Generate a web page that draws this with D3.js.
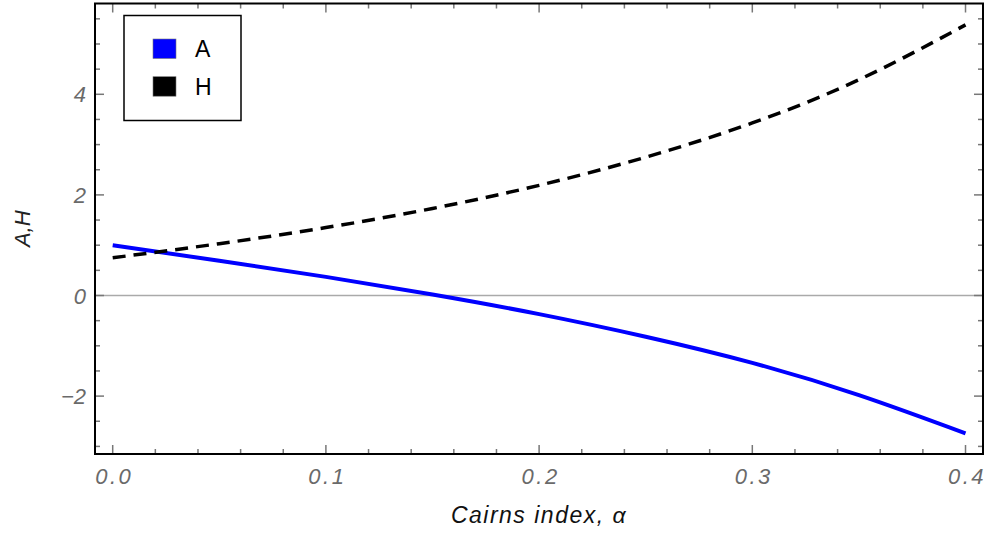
<!DOCTYPE html>
<html><head><meta charset="utf-8">
<script src="https://cdn.jsdelivr.net/npm/d3@7"></script>
<style>
html,body{margin:0;padding:0;background:#fff;}
svg{display:block;font-family:"Liberation Sans",Arial,sans-serif;}
</style></head>
<body>
<svg id="chart" width="987" height="533"></svg>
<script>
const alpha = [0, 0.05, 0.1, 0.15, 0.2, 0.25, 0.3, 0.35, 0.4];
const seriesA = [1.0, 0.69, 0.37, 0.02, -0.37, -0.82, -1.34, -1.98, -2.74];
const seriesH = [0.75, 1.03, 1.35, 1.73, 2.19, 2.75, 3.43, 4.29, 5.38];
const xTicks = [0, 0.1, 0.2, 0.3, 0.4];
const xTickLabels = ["0.0", "0.1", "0.2", "0.3", "0.4"];
const yTicks = [-2, 0, 2, 4];
const yTickLabels = ["\u22122", "0", "2", "4"];
const legendNames = ["A", "H"];

const L = 95, R = 983, T = 3.5, B = 454;
const svg = d3.select("#chart");
const x = d3.scaleLinear().domain([-0.0083, 0.4082]).range([L, R]);
const y = d3.scaleLinear().domain([-3.151, 5.805]).range([B, T]);

// zero line
svg.append("line").attr("x1", L).attr("x2", R).attr("y1", y(0)).attr("y2", y(0))
  .attr("stroke", "#aaa").attr("stroke-width", 1.5);

// ticks (inward, all four sides)
const tickCol = "#777";
const xMinor = d3.range(0, 0.4001, 0.02);
const yMinor = d3.range(-3, 5.51, 0.5);
function isMajor(v, arr){ return arr.some(t => Math.abs(t - v) < 1e-6); }
const tg = svg.append("g").attr("stroke", tickCol).attr("stroke-width", 1.5);
xMinor.forEach(v => {
  const len = isMajor(v, xTicks) ? 9 : 5;
  tg.append("line").attr("x1", x(v)).attr("x2", x(v)).attr("y1", B).attr("y2", B - len);
  tg.append("line").attr("x1", x(v)).attr("x2", x(v)).attr("y1", T).attr("y2", T + len);
});
yMinor.forEach(v => {
  const len = isMajor(v, yTicks) ? 9 : 5;
  tg.append("line").attr("y1", y(v)).attr("y2", y(v)).attr("x1", L).attr("x2", L + len);
  tg.append("line").attr("y1", y(v)).attr("y2", y(v)).attr("x1", R).attr("x2", R - len);
});

// tick labels
const labCol = "#6a6a6a";
svg.append("g").selectAll("text").data(xTicks).join("text")
  .attr("x", d => x(d) + 1.5).attr("y", 483.5)
  .attr("text-anchor", "middle")
  .attr("font-size", 22).attr("font-style", "italic").attr("letter-spacing", 2.5)
  .attr("fill", labCol)
  .text((d, i) => xTickLabels[i]);
svg.append("g").selectAll("text").data(yTicks).join("text")
  .attr("x", 86).attr("y", d => y(d) + 8)
  .attr("text-anchor", "end")
  .attr("font-size", 22).attr("font-style", "italic")
  .attr("fill", labCol)
  .text((d, i) => yTickLabels[i]);

// axis titles
svg.append("text").attr("x", (L + R) / 2).attr("y", 523)
  .attr("text-anchor", "middle").attr("font-size", 23).attr("font-style", "italic")
  .attr("letter-spacing", 1.5).attr("fill", "#111")
  .text("Cairns index, \u03b1");
const yt = svg.append("text").attr("transform", `translate(30,${(T + B) / 2}) rotate(-90)`)
  .attr("text-anchor", "middle").attr("font-size", 22).attr("fill", "#222")
  .attr("font-style", "italic");
yt.append("tspan").text("A,");
yt.append("tspan").text("H");

// lines
const ptsA = alpha.map((a, i) => [a, seriesA[i]]);
const ptsH = alpha.map((a, i) => [a, seriesH[i]]);
const line = d3.line().x(d => x(d[0])).y(d => y(d[1])).curve(d3.curveNatural);
svg.append("path").attr("d", line(ptsA)).attr("fill", "none")
  .attr("stroke", "#0000ff").attr("stroke-width", 4);
svg.append("path").attr("d", line(ptsH)).attr("fill", "none")
  .attr("stroke", "#000").attr("stroke-width", 3.5).attr("stroke-dasharray", "13,8");

// frame
svg.append("rect").attr("x", L).attr("y", T).attr("width", R - L).attr("height", B - T)
  .attr("fill", "none").attr("stroke", "#000").attr("stroke-width", 2);

// legend
const lg = svg.append("g");
lg.append("rect").attr("x", 124).attr("y", 15.5).attr("width", 117).attr("height", 105)
  .attr("fill", "#fff").attr("stroke", "#000").attr("stroke-width", 1.5);
const legCols = ["#0000ff", "#000"];
legendNames.forEach((n, i) => {
  const yy = 39 + i * 37.7;
  lg.append("rect").attr("x", 153).attr("y", yy).attr("width", 23).attr("height", 19.5)
    .attr("fill", legCols[i]).attr("stroke", "#777").attr("stroke-width", 0.6);
  lg.append("text").attr("x", 195).attr("y", yy + 18).attr("font-size", 23)
    .attr("fill", "#000").text(n);
});
</script>
</body></html>
